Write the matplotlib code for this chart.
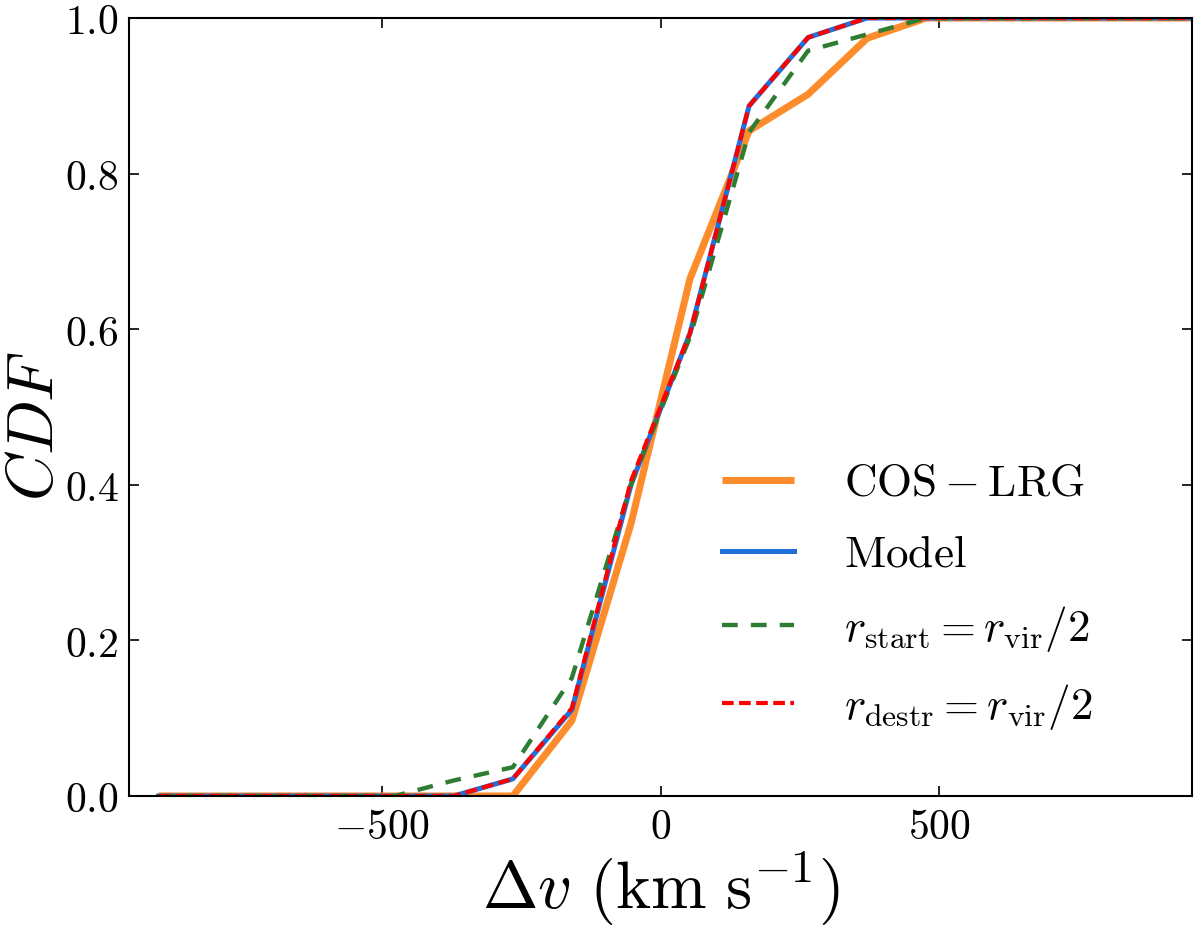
import matplotlib
matplotlib.use("Agg")
import matplotlib.pyplot as plt
from matplotlib.ticker import FixedLocator, FuncFormatter

# ---- data ----
velocity = [-901, -795, -689, -583, -477, -371, -265, -159, -53,
            53, 159, 265, 371, 477, 583, 689, 795, 901, 1007]
cdf_cos_lrg = [0, 0, 0, 0, 0, 0, 0, 0.097, 0.35,
               0.665, 0.855, 0.902, 0.974, 1, 1, 1, 1, 1, 1]
cdf_model = [0, 0, 0, 0, 0, 0, 0.022, 0.111, 0.40,
             0.595, 0.887, 0.975, 1, 1, 1, 1, 1, 1, 1]
cdf_rstart = [0, 0, 0, 0, 0, 0.02, 0.037, 0.152, 0.40,
              0.59, 0.853, 0.958, 0.979, 1, 1, 1, 1, 1, 1]
cdf_rdestr = [0, 0, 0, 0, 0, 0, 0.022, 0.113, 0.405,
              0.595, 0.887, 0.975, 1, 1, 1, 1, 1, 1, 1]
labels = [r'$\mathrm{COS-LRG}$', r'$\mathrm{Model}$',
          r'$r_{\rm start}=r_{\rm vir}/2$', r'$r_{\rm destr}=r_{\rm vir}/2$']
xticks = [-500, 0, 500]
yticks = [0.0, 0.2, 0.4, 0.6, 0.8, 1.0]

plt.rcParams['mathtext.fontset'] = 'cm'
plt.rcParams['font.family'] = 'serif'
plt.rcParams['font.serif'] = ['DejaVu Serif']

fig = plt.figure(figsize=(8, 934 / 150), dpi=150)
ax = fig.add_axes([129 / 1200, 1 - 796 / 934, (1192 - 129) / 1200, (796 - 18) / 934])

ax.plot(velocity, cdf_cos_lrg, color='#fd8d2c', lw=3.4, label=labels[0], solid_capstyle='butt')
ax.plot(velocity, cdf_model, color='#2070dc', lw=2.4, label=labels[1])
ax.plot(velocity, cdf_rstart, color='#2e7d32', lw=2.1, dashes=(3.6, 3.0), label=labels[2])
ax.plot(velocity, cdf_rdestr, color='#ff0000', lw=2.0, dashes=(2.8, 1.3), label=labels[3])

ax.set_xlim(-954, 954)
ax.set_ylim(0, 1)
ax.xaxis.set_major_locator(FixedLocator(xticks))
ax.yaxis.set_major_locator(FixedLocator(yticks))
ax.xaxis.set_major_formatter(FuncFormatter(lambda x, p: r'$%d$' % x))
ax.yaxis.set_major_formatter(FuncFormatter(lambda y, p: r'$%.1f$' % y))
ax.tick_params(direction='in', top=True, right=True, length=5, width=0.8,
               labelsize=20, pad=5)
for s in ax.spines.values():
    s.set_linewidth(1.0)

ax.set_xlabel(r'$\Delta v\ (\mathrm{km\ s^{-1}})$', fontsize=32)
ax.xaxis.set_label_coords(0.5, -0.068, transform=ax.transAxes)
ax.xaxis.label.set_va('top')
ax.set_ylabel(r'$CDF$', fontsize=31)
ax.yaxis.set_label_coords(-0.088, 0.476, transform=ax.transAxes)
ax.yaxis.label.set_va('center')

leg = ax.legend(loc='lower right', frameon=False, fontsize=21.7,
                handlelength=1.6, handletextpad=1.1, labelspacing=0.62,
                bbox_to_anchor=(0.945, 0.03))

fig.savefig('out.png', dpi=150)
